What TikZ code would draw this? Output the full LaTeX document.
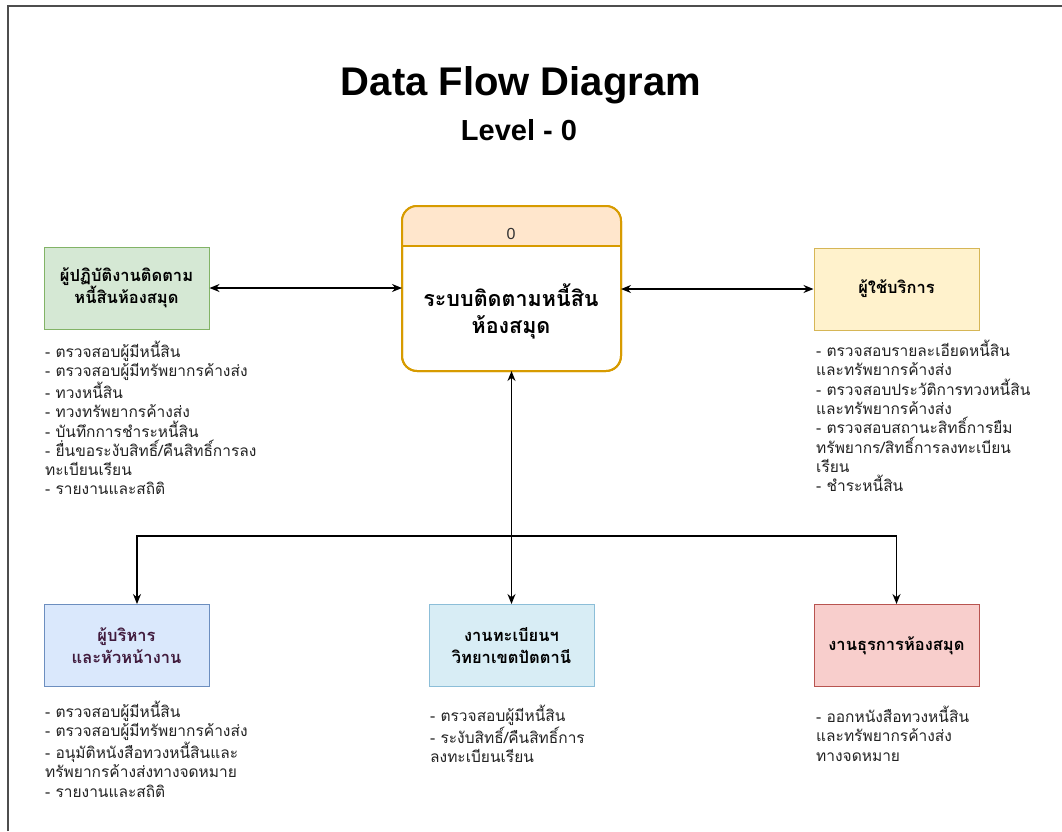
\documentclass[tikz,border=0pt]{standalone}
\usepackage{fontspec}
\setmainfont{Liberation Sans}
\newfontfamily\thaifont[Script=Thai]{Loma}
\usetikzlibrary{arrows.meta}
\definecolor{staffFill}{HTML}{D5E8D4}
\definecolor{staffLine}{HTML}{82B366}
\definecolor{userFill}{HTML}{FFF2CC}
\definecolor{userLine}{HTML}{D6B656}
\definecolor{mgrFill}{HTML}{DAE8FC}
\definecolor{mgrLine}{HTML}{6C8EBF}
\definecolor{mgrText}{HTML}{401A3C}
\definecolor{regFill}{HTML}{D8EDF5}
\definecolor{regLine}{HTML}{8CBED8}
\definecolor{libFill}{HTML}{F8CECC}
\definecolor{libLine}{HTML}{B85450}
\definecolor{procLine}{HTML}{D79B00}
\definecolor{hdrFill}{HTML}{FFE6CC}
\definecolor{listGray}{HTML}{222222}
\definecolor{frameGray}{HTML}{4D4D4D}
\begin{document}
\begin{tikzpicture}[x=1pt,y=-1pt,
	box/.style={draw,rectangle,line width=1pt,minimum width=165pt,minimum height=82pt,align=center,font=\thaifont\bfseries\fontsize{16.5}{22}\selectfont},
	procbox/.style={draw=procLine,rectangle,rounded corners=15pt,line width=2pt,outer sep=0pt,minimum width=219pt,minimum height=165pt},
	duties/.style={anchor=north west,inner sep=0pt,align=left,text=listGray,font=\thaifont\fontsize{15.5}{19.3}\selectfont},
	flow/.style={line width=1.4pt,{Stealth[length=10pt,width=8pt]}-{Stealth[length=10pt,width=8pt]}},
	down/.style={line width=1.4pt,-{Stealth[length=10pt,width=8pt]}}]
	\useasboundingbox (0,0) rectangle (1062,831);
	\draw[frameGray,line width=1.3pt] (8,831) -- (8,6) -- (1062,6);
	% title
	\node[anchor=base,font=\bfseries\fontsize{40}{46}\selectfont] (title) at (521,95) {Data Flow Diagram};
	\node[anchor=base,font=\bfseries\fontsize{29}{34}\selectfont] (level) at (519,140) {Level - 0};
	% process 0
	\node[procbox] (proc) at (511.5,288.5) {};
	\begin{scope}
		\clip (proc.north west) rectangle ([yshift=-40pt]proc.north east);
		\fill[hdrFill,rounded corners=15pt] (proc.north west) rectangle (proc.south east);
	\end{scope}
	\draw[procLine,line width=2pt,rounded corners=15pt] (proc.north west) rectangle (proc.south east);
	\draw[procLine,line width=2pt] ([yshift=-40pt]proc.north west) -- ([yshift=-40pt]proc.north east);
	\node[anchor=base,font=\fontsize{16}{19}\selectfont,text=black!80] (pnum) at (511,239) {0};
	\node[align=center,font=\thaifont\bfseries\fontsize{21.5}{27}\selectfont] (pname) at (511,311) {ระบบติดตามหนี้สิน\\ห้องสมุด};
	% external entities
	\node[box,fill=staffFill,draw=staffLine] (staff) at (126.5,288) {ผู้ปฏิบัติงานติดตาม\\หนี้สินห้องสมุด};
	\node[box,fill=userFill,draw=userLine] (user) at (896.5,289) {ผู้ใช้บริการ};
	\node[box,fill=mgrFill,draw=mgrLine,text=mgrText] (mgr) at (126.5,645.5) {ผู้บริหาร\\และหัวหน้างาน};
	\node[box,fill=regFill,draw=regLine] (reg) at (511.5,645.5) {งานทะเบียนฯ\\วิทยาเขตปัตตานี};
	\node[box,fill=libFill,draw=libLine] (lib) at (896.5,645.5) {งานธุรการห้องสมุด};
	% data flows
	\draw[flow] (staff.east) -- (staff.east -| proc.west);
	\draw[flow] (proc.east |- user.west) -- (user.west);
	\draw[flow] (proc.south -| reg.north) -- (reg.north);
	\coordinate (split) at (reg.north |- 0,536);
	\draw[down] (split) -| ([xshift=10.5pt]mgr.north);
	\draw[down] (split) -| (lib);
	% duties
	\node[duties] (staffList) at (45,341) {- ตรวจสอบผู้มีหนี้สิน\\- ตรวจสอบผู้มีทรัพยากรค้างส่ง\\- ทวงหนี้สิน\\- ทวงทรัพยากรค้างส่ง\\- บันทึกการชำระหนี้สิน\\- ยื่นขอระงับสิทธิ์/คืนสิทธิ์การลง\\ทะเบียนเรียน\\- รายงานและสถิติ};
	\node[duties] (userList) at (816,340) {- ตรวจสอบรายละเอียดหนี้สิน\\และทรัพยากรค้างส่ง\\- ตรวจสอบประวัติการทวงหนี้สิน\\และทรัพยากรค้างส่ง\\- ตรวจสอบสถานะสิทธิ์การยืม\\ทรัพยากร/สิทธิ์การลงทะเบียน\\เรียน\\- ชำระหนี้สิน};
	\node[duties] (mgrList) at (45,701) {- ตรวจสอบผู้มีหนี้สิน\\- ตรวจสอบผู้มีทรัพยากรค้างส่ง\\- อนุมัติหนังสือทวงหนี้สินและ\\ทรัพยากรค้างส่งทางจดหมาย\\- รายงานและสถิติ};
	\node[duties] (regList) at (430,705) {- ตรวจสอบผู้มีหนี้สิน\\- ระงับสิทธิ์/คืนสิทธิ์การ\\ลงทะเบียนเรียน};
	\node[duties] (libList) at (816,706) {- ออกหนังสือทวงหนี้สิน\\และทรัพยากรค้างส่ง\\ทางจดหมาย};
\end{tikzpicture}
\end{document}
